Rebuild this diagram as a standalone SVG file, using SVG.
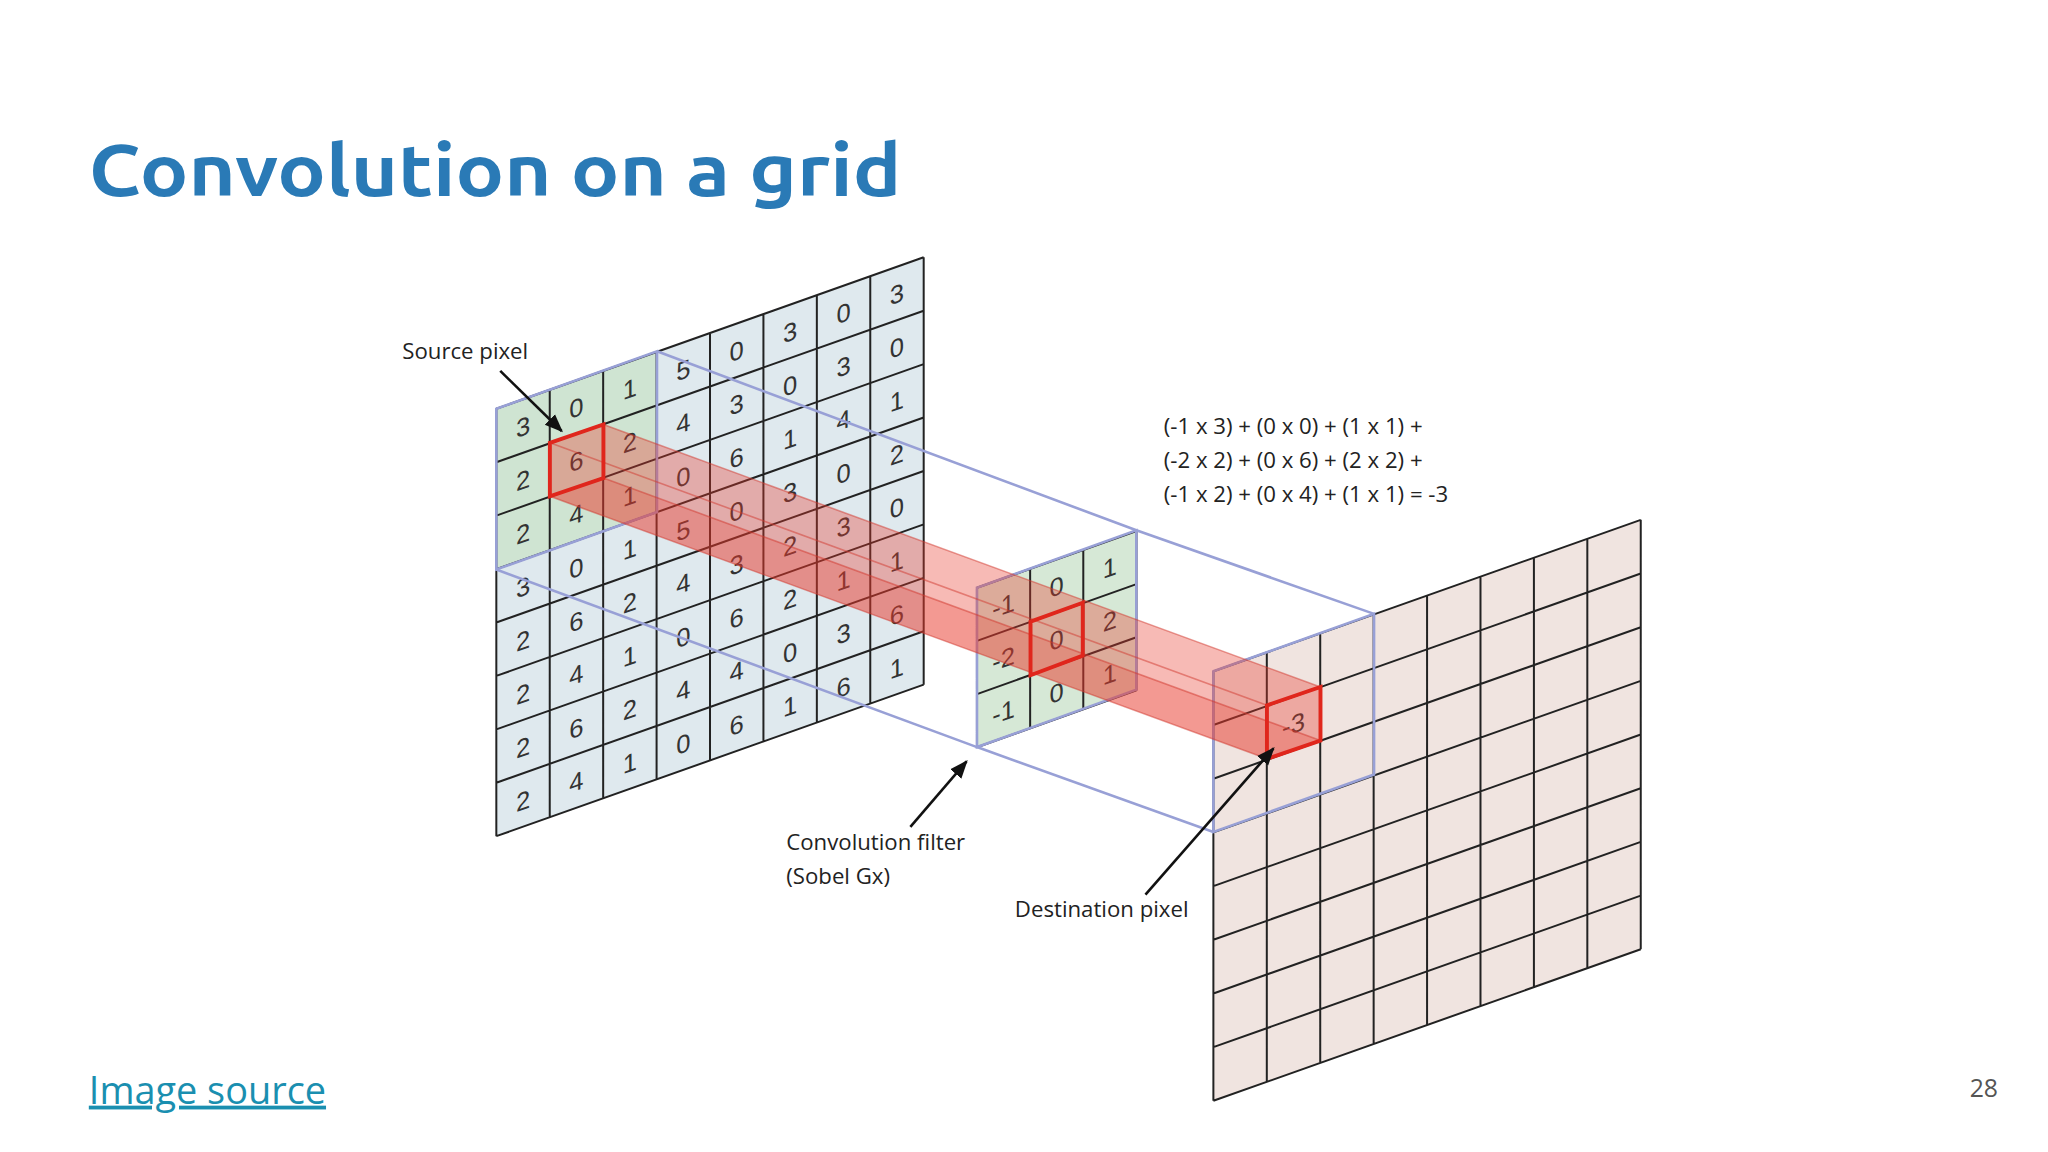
<svg xmlns="http://www.w3.org/2000/svg" width="2048" height="1152" viewBox="0 0 2048 1152">
<style>
.g{stroke:#222;stroke-width:2;fill:none;vector-effect:non-scaling-stroke}
.n{font-family:"Liberation Sans",Arial,sans-serif;font-size:0.48px;fill:#333;text-anchor:middle}
.lbl{font-family:"Open Sans","Liberation Sans",sans-serif;font-size:17px;fill:#222}
.blue{stroke:#98a0d6;stroke-width:2;fill:none}
.red{stroke:#e0261c;stroke-width:3;fill:none}
</style>
<defs><marker id="ah" viewBox="0 0 10 10" refX="9" refY="5" markerWidth="7" markerHeight="7" orient="auto"><path d="M0,1 L10,5 L0,9 z" fill="#111"/></marker></defs>
<rect width="2048" height="1152" fill="#fff"/>
<g transform="scale(1.30612)">
<text x="68" y="150" font-family="Ubuntu,'Open Sans',sans-serif" font-weight="bold" font-size="56" fill="#2a7ab6" textLength="622" lengthAdjust="spacingAndGlyphs">Convolution on a grid</text>

<g id="source-grid" transform="matrix(40.9,-14.5,0,40.9,380,313)">
<rect width="8" height="8" fill="#dfe9ee"/>
<rect width="3" height="3" fill="#cfe4d2"/>
<path class="g" d="M0 0H8M0 1H8M0 2H8M0 3H8M0 4H8M0 5H8M0 6H8M0 7H8M0 8H8M0 0V8M1 0V8M2 0V8M3 0V8M4 0V8M5 0V8M6 0V8M7 0V8M8 0V8"/>
<g class="n">
<text x="0.5 1.5 2.5 3.5 4.5 5.5 6.5 7.5" y="0.68">30150303</text>
<text x="0.5 1.5 2.5 3.5 4.5 5.5 6.5 7.5" y="1.68">26243030</text>
<text x="0.5 1.5 2.5 3.5 4.5 5.5 6.5 7.5" y="2.68">24106141</text>
<text x="0.5 1.5 2.5 3.5 4.5 5.5 6.5 7.5" y="3.68">30150302</text>
<text x="0.5 1.5 2.5 3.5 4.5 5.5 6.5 7.5" y="4.68">26243230</text>
<text x="0.5 1.5 2.5 3.5 4.5 5.5 6.5 7.5" y="5.68">24106211</text>
<text x="0.5 1.5 2.5 3.5 4.5 5.5 6.5 7.5" y="6.68">26244036</text>
<text x="0.5 1.5 2.5 3.5 4.5 5.5 6.5 7.5" y="7.68">24106161</text>
</g>
</g>

<g id="filter" transform="matrix(40.7,-14.5,0,40.7,748,450)">
<rect width="3" height="3" fill="#d6e8d6"/>
<path class="g" d="M0 0H3M0 1H3M0 2H3M0 3H3M0 0V3M1 0V3M2 0V3M3 0V3"/>
<g class="n">
<text x="0.5" y="0.68">-1</text><text x="1.5" y="0.68">0</text><text x="2.5" y="0.68">1</text>
<text x="0.5" y="1.68">-2</text><text x="1.5" y="1.68">0</text><text x="2.5" y="1.68">2</text>
<text x="0.5" y="2.68">-1</text><text x="1.5" y="2.68">0</text><text x="2.5" y="2.68">1</text>
</g>
</g>

<g id="destination-grid" transform="matrix(40.9,-14.5,0,41.1,929,514)">
<rect width="8" height="8" fill="#f0e4e0"/>
<path class="g" d="M0 0H8M0 1H8M0 2H8M0 3H8M0 4H8M0 5H8M0 6H8M0 7H8M0 8H8M0 0V8M1 0V8M2 0V8M3 0V8M4 0V8M5 0V8M6 0V8M7 0V8M8 0V8"/>
<text class="n" x="1.5" y="1.68">-3</text>
</g>

<g id="connectors">
<polygon class="blue" points="380,313 503,269 503,392 380,436"/>
<line class="blue" x1="503" y1="269" x2="870" y2="406"/>
<line class="blue" x1="380" y1="436" x2="748" y2="572"/>
<line class="blue" x1="870" y1="406" x2="1052" y2="470"/>
<line class="blue" x1="748" y1="572" x2="929" y2="637"/>
<polygon class="blue" points="748,450 870,406 870,528 748,572"/>
<polygon class="blue" points="929,514 1052,470 1052,593 929,637"/>
<polygon points="421,339 462,325 1011,526 1011,567 970,581 421,380" fill="#e8382c" fill-opacity="0.35"/>
<polygon points="421,380 462,366 1011,567 970,581" fill="#e8382c" fill-opacity="0.25"/>
<g stroke="#d23a30" stroke-opacity="0.5" stroke-width="1.2">
<line x1="462" y1="325" x2="1011" y2="526"/><line x1="462" y1="366" x2="1011" y2="567"/><line x1="421" y1="380" x2="970" y2="581"/><line x1="421" y1="339" x2="970" y2="540"/>
</g>
<polygon class="red" points="421,339 462,325 462,366 421,380"/>
<polygon class="red" points="789,476 829,461.5 829,502 789,517"/>
<polygon class="red" points="970,540 1011,526 1011,567 970,581"/>
<line x1="383" y1="284" x2="430" y2="330" stroke="#111" stroke-width="2" marker-end="url(#ah)"/>
<line x1="697" y1="633" x2="740" y2="583" stroke="#111" stroke-width="2" marker-end="url(#ah)"/>
<line x1="877" y1="685" x2="975" y2="573" stroke="#111" stroke-width="2" marker-end="url(#ah)"/>
</g>

<text class="lbl" x="308" y="275">Source pixel</text>
<text class="lbl" x="602" y="651">Convolution filter</text>
<text class="lbl" x="602" y="677">(Sobel Gx)</text>
<text class="lbl" x="777" y="702">Destination pixel</text>
<text class="lbl" x="891" y="332">(-1 x 3) + (0 x 0) + (1 x 1) +</text>
<text class="lbl" x="891" y="358">(-2 x 2) + (0 x 6) + (2 x 2) +</text>
<text class="lbl" x="891" y="384">(-1 x 2) + (0 x 4) + (1 x 1)  = -3</text>
<text x="68" y="845" font-family="'Open Sans','Liberation Sans',sans-serif" font-size="29" fill="#1a8fb0" text-decoration="underline">Image source</text>
<text x="1508" y="840" font-family="'Open Sans','Liberation Sans',sans-serif" font-size="19" fill="#555">28</text>
</g>
</svg>
